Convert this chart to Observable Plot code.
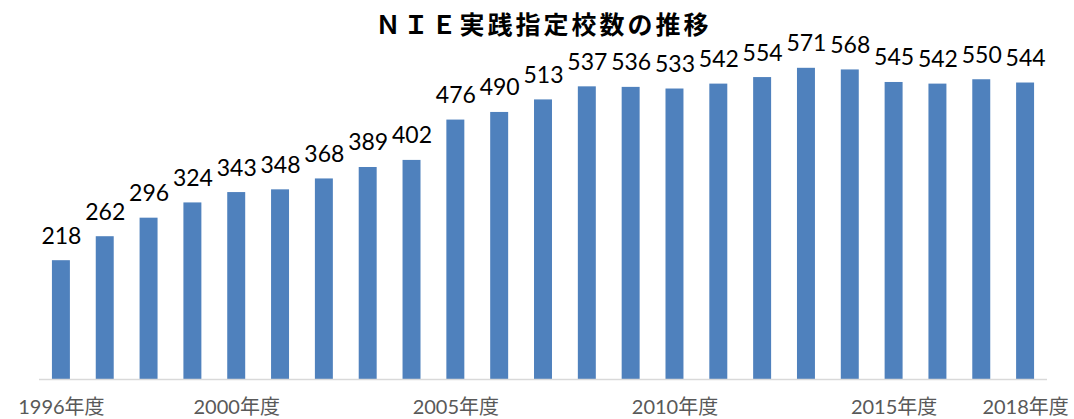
<!DOCTYPE html>
<html><head><meta charset="utf-8">
<script src="https://cdn.jsdelivr.net/npm/d3@7"></script>
<script src="https://cdn.jsdelivr.net/npm/@observablehq/plot@0.6"></script>
<style>
body{margin:0;background:#fff;width:1074px;height:419px;overflow:hidden;}
#title{height:40px;line-height:46px;text-align:center;font-family:"Noto Sans CJK JP",sans-serif;font-weight:bold;font-size:25px;letter-spacing:3px;color:#000;padding-left:13px;}
svg{overflow:visible;display:block;}
</style></head><body>
<div id="title">ＮＩＥ実践指定校数の推移</div>
<div id="chart"></div>
<script>
const years = [1996,1997,1998,1999,2000,2001,2002,2003,2004,2005,2006,2007,2008,2009,2010,2011,2012,2013,2014,2015,2016,2017,2018];
const counts = [218,262,296,324,343,348,368,389,402,476,490,513,537,536,533,542,554,571,568,545,542,550,544];
const tickYears = [1996,2000,2005,2010,2015,2018];
const tickSuffix = "年度";

const data = years.map((y,i)=>({year:y,count:counts[i]}));

const chart = Plot.plot({
  width:1074,
  height:379,
  marginLeft:39,
  marginRight:27,
  marginTop:12,
  marginBottom:40,
  style:{fontFamily:"Lato, 'Noto Sans CJK JP', sans-serif", background:"transparent"},
  x:{type:"band", domain:years, paddingInner:0.59, paddingOuter:0.295, round:false, label:null},
  y:{domain:[0,600], axis:null},
  marks:[
    Plot.axisX({ticks:tickYears, tickSize:0, tickPadding:20, tickFormat:d=>d+tickSuffix, fontSize:20, fill:"#595959", label:null}),
    Plot.barY(data,{x:"year",y:"count",fill:"#4F81BD"}),
    Plot.ruleY([0],{stroke:"#d9d9d9",strokeWidth:1.5}),
    Plot.text(data,{x:"year",y:"count",text:d=>String(d.count),dy:-17,lineAnchor:"bottom",fontSize:23,fill:"#000"})
  ]
});
document.getElementById("chart").appendChild(chart);
</script>
</body></html>
